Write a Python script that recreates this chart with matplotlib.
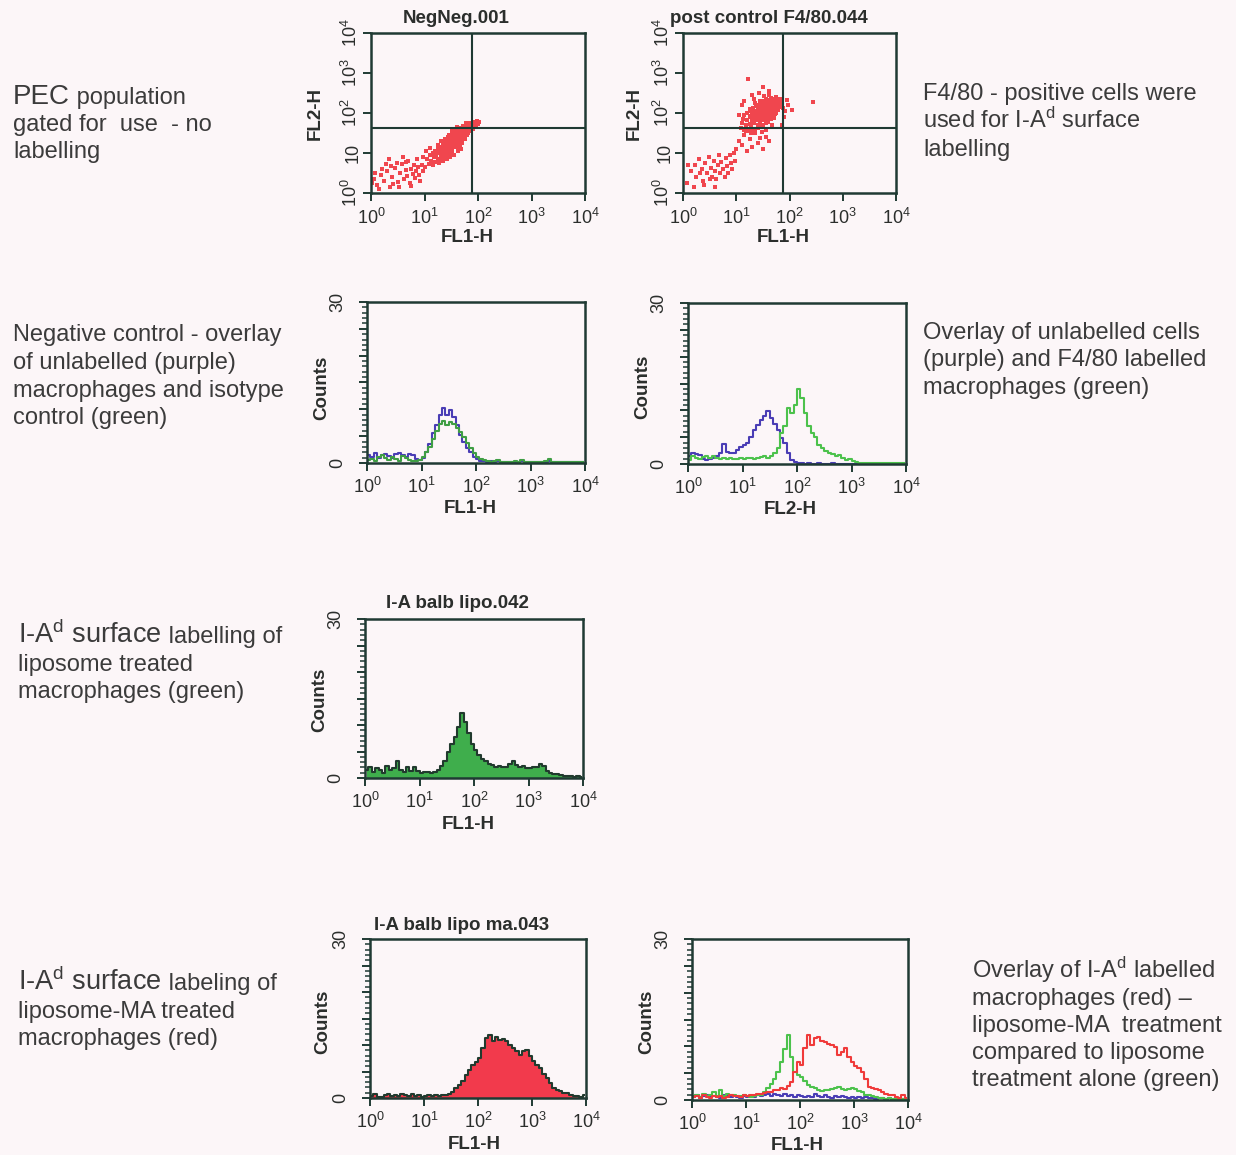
import matplotlib
matplotlib.use('Agg')
import matplotlib.pyplot as plt
from matplotlib.ticker import FixedLocator, FixedFormatter, LogLocator, NullFormatter, MultipleLocator
import numpy as np

# ---------------- data ----------------
DECADES = [1, 10, 100, 1000, 10000]
X_TICK_LABELS = ['10$^{0}$', '10$^{1}$', '10$^{2}$', '10$^{3}$', '10$^{4}$']
Y_DOT_LABELS = ['10$^{0}$', '10', '10$^{2}$', '10$^{3}$', '10$^{4}$']
COUNT_MAJOR = [0, 5, 10, 15, 20, 25, 30]
COUNT_LABELS = ['0', '', '', '', '', '', '30']

# dot plot 1 : NegNeg.001  (log10 FL1, log10 FL2)
neg_fl1 = [0.05,0.12,0.18,0.25,0.3,0.35,0.4,0.45,0.5,0.55,0.58,0.62,0.65,0.68,0.7,0.72,0.75,0.78,0.8,0.82,
           0.85,0.88,0.9,0.6,0.48,0.38,0.28,0.2,0.15,0.08,0.95,0.98,0.75,0.52,0.42,0.33,0.66,0.86,0.92,0.02,
           1.05,1.08,1.1,1.12,1.15,1.15,1.18,1.2,1.2,1.22,1.25,1.25,1.27,1.28,1.3,1.3,1.32,1.33,1.35,1.35,
           1.36,1.37,1.38,1.4,1.4,1.41,1.42,1.43,1.44,1.45,1.45,1.46,1.47,1.48,1.5,1.5,1.5,1.51,1.52,1.53,
           1.54,1.55,1.55,1.56,1.57,1.58,1.59,1.6,1.6,1.61,1.62,1.63,1.64,1.65,1.65,1.66,1.67,1.68,1.69,1.7,
           1.7,1.71,1.72,1.73,1.74,1.75,1.75,1.76,1.77,1.78,1.79,1.8,1.8,1.81,1.82,1.83,1.84,1.85,1.86,1.87,
           1.88,1.9,1.9,1.92,1.94,1.96,1.98,2.0,2.02,1.45,1.38,1.52,1.58,1.62,1.55,1.48,1.68,1.3,1.25,1.7,
           1.42,1.35,1.58,1.63,1.47,1.53,1.67,1.72,1.77,1.6,1.44,1.56,1.5,1.4,1.34,1.66,1.74,1.82,1.58,1.64,
           1.52,1.46,1.6,1.7,0.98,1.0,1.02,1.1]
neg_fl2 = [0.35,0.2,0.45,0.3,0.55,0.15,0.4,0.62,0.28,0.5,0.72,0.35,0.58,0.42,0.8,0.25,0.6,0.48,0.7,0.38,
           0.55,0.65,0.45,0.9,0.75,0.68,0.72,0.6,0.1,0.5,0.7,0.55,0.18,0.15,0.22,0.85,0.78,0.85,0.3,0.25,
           0.85,0.72,0.95,0.8,1.0,0.7,0.9,1.05,0.78,0.95,1.1,0.85,1.0,0.75,1.15,0.92,1.05,0.85,1.2,1.0,
           1.1,0.9,1.25,1.05,1.15,0.95,1.3,1.2,1.1,1.0,1.35,1.25,1.15,1.05,1.4,1.3,1.2,1.1,1.0,1.35,
           1.25,1.45,1.15,1.3,1.4,1.2,1.5,1.35,1.25,1.45,1.15,1.4,1.3,1.5,1.55,1.2,1.45,1.35,1.6,1.5,
           1.4,1.3,1.55,1.45,1.65,1.5,1.35,1.6,1.45,1.7,1.55,1.6,1.45,1.65,1.5,1.7,1.6,1.75,1.55,1.65,
           1.7,1.6,1.78,1.7,1.75,1.65,1.8,1.72,1.78,1.45,1.35,1.55,1.6,1.05,0.95,0.9,1.1,1.3,1.2,1.25,
           0.85,0.8,1.45,1.55,1.38,1.48,1.62,1.68,1.75,1.65,1.4,1.52,1.05,1.0,1.15,1.38,1.42,1.58,1.35,1.48,
           1.22,1.18,1.28,1.35,0.9,0.65,1.05,1.12]
NEG_GATE = (1.89, 1.625)

# dot plot 2 : post control F4/80.044
f480_fl1 = [0.08,0.15,0.22,0.25,0.3,0.35,0.38,0.42,0.45,0.48,0.52,0.55,0.58,0.6,0.62,0.65,0.68,0.7,0.72,0.75,
            0.78,0.8,0.82,0.85,0.88,0.9,0.92,0.95,0.98,0.4,0.6,0.2,0.1,0.32,0.5,
            1.0,1.05,1.1,1.15,1.2,1.25,1.3,1.35,1.4,1.5,1.55,1.45,1.18,1.28,1.62,
            1.08,1.1,1.12,1.15,1.15,1.18,1.2,1.2,1.22,1.25,1.25,1.27,1.28,1.3,1.3,1.32,1.33,1.35,1.35,1.36,
            1.37,1.38,1.4,1.4,1.41,1.42,1.43,1.44,1.45,1.45,1.46,1.47,1.48,1.5,1.5,1.5,1.51,1.52,1.53,1.54,
            1.55,1.55,1.56,1.57,1.58,1.59,1.6,1.6,1.61,1.62,1.63,1.64,1.65,1.65,1.66,1.67,1.68,1.69,1.7,1.7,
            1.71,1.72,1.73,1.74,1.75,1.75,1.76,1.77,1.78,1.8,1.8,1.82,1.84,1.86,1.88,1.2,1.25,1.3,1.35,1.4,
            1.45,1.5,1.55,1.6,1.65,1.7,1.3,1.4,1.5,1.6,1.38,1.48,1.58,1.68,1.28,1.44,1.52,1.62,1.72,1.34,
            1.22,1.5,1.42,1.95,2.05,2.44,1.92,1.9,1.1,1.05,1.15,1.62,1.3,1.98,1.85,1.55,1.48,1.68]
f480_fl2 = [0.25,0.55,0.7,0.4,0.85,0.6,0.3,0.75,0.5,0.9,0.62,0.4,0.8,0.55,0.35,0.7,0.95,0.5,0.78,0.6,
            0.4,0.88,0.68,0.5,0.95,0.75,0.6,1.0,0.8,0.2,0.15,0.15,0.7,0.5,0.35,
            1.1,1.3,1.2,1.45,1.05,1.35,1.15,1.5,1.25,1.1,1.4,1.38,1.55,1.5,1.3,
            1.62,1.75,1.85,1.58,1.95,1.7,1.82,2.0,1.6,1.9,1.72,2.05,1.65,1.85,1.98,2.12,1.75,1.92,1.6,2.05,
            1.82,2.18,1.95,1.7,2.08,1.85,2.2,1.98,1.75,2.1,1.9,2.25,2.02,1.82,2.15,1.95,2.3,2.05,1.88,2.2,
            1.98,2.35,2.1,1.8,2.25,2.0,2.15,1.9,2.32,2.05,2.2,1.95,2.1,2.38,2.25,2.0,2.15,2.3,2.05,2.2,
            1.92,2.35,2.12,2.25,2.0,2.4,2.18,2.3,2.08,2.25,2.15,2.35,2.2,2.3,2.12,1.55,2.1,1.6,2.25,1.62,
            1.65,1.7,1.75,1.78,1.85,1.88,1.78,1.88,2.08,2.08,2.0,1.92,2.12,2.22,1.92,2.3,2.42,2.45,1.98,2.35,
            2.85,2.65,2.5,2.33,2.08,2.28,2.05,1.9,2.2,1.95,2.3,2.55,2.45,2.2,1.7,1.58,1.52,1.7]
F480_GATE = (1.88, 1.625)

# histograms: 64 channels spanning 10^0 .. 10^4
N_CH = 64
negctl_unlab = [1.5,1.2,1.8,1.0,1.4,1.7,1.3,1.0,1.6,1.9,1.5,1.2,1.7,1.4,0.8,0.5,
                0.9,2.0,3.5,5.5,7.0,9.0,10.2,9.0,9.8,8.5,7.0,5.2,4.0,2.8,2.0,1.2,
                0.7,0.4,0.3,0.2,0.3,0.2,0.3,0.2,0.1,0.2,0.2,0.1,0.2,0.3,0.2,0.1,
                0.2,0.1,0.2,0.1,0.2,0.3,0.1,0.2,0.1,0.1,0.2,0.1,0.1,0.2,0.1,0.1]
negctl_iso = [0.5,0.8,0.3,1.2,1.5,0.9,0.6,1.1,0.7,0.4,1.3,1.0,0.6,0.3,0.4,0.6,
              1.2,2.0,3.0,4.5,6.0,7.3,7.8,7.0,7.6,7.2,6.6,5.8,4.8,3.8,2.8,1.8,
              1.2,0.8,0.5,0.3,0.2,0.3,0.6,0.2,0.2,0.1,0.2,0.3,0.2,0.6,0.2,0.1,
              0.2,0.1,0.2,0.2,0.3,0.8,0.2,0.1,0.2,0.1,0.1,0.2,0.1,0.1,0.2,0.1]
f480_unlab = [1.5,2.0,1.8,1.6,1.0,0.8,1.0,1.2,1.5,2.0,3.8,2.2,2.0,2.1,2.6,3.2,
              3.5,3.9,5.0,6.3,7.2,8.2,9.0,9.8,8.5,7.4,6.3,4.8,3.9,2.0,0.8,0.3,
              0.1,0.1,0.0,0.1,0.0,0.0,0.1,0.0,0.0,0.0,0.1,0.0,0.0,0.0,0.0,0.0,
              0.0,0.0,0.0,0.0,0.0,0.0,0.0,0.0,0.0,0.0,0.0,0.0,0.0,0.0,0.0,0.0]
f480_lab = [0.8,1.4,1.2,0.9,1.3,1.5,1.2,1.4,1.1,1.0,1.2,1.0,1.1,1.0,1.0,1.1,
            1.0,1.1,1.2,1.0,1.1,1.3,1.4,1.2,1.5,2.0,3.0,5.7,7.0,10.5,9.5,11.0,
            14.0,12.3,9.5,7.0,5.8,5.0,3.5,3.0,2.5,2.0,1.8,1.4,1.6,1.2,0.8,1.0,
            0.5,0.3,0.2,0.2,0.1,0.2,0.1,0.1,0.2,0.1,0.1,0.1,0.2,0.1,0.1,0.1]
lipo_green = [1.5,2.0,1.2,1.8,1.5,1.0,2.2,1.5,1.8,3.3,1.6,1.2,2.0,1.4,2.0,1.3,
              1.0,1.1,1.1,1.0,1.1,1.5,2.2,3.3,5.0,6.5,7.8,9.7,12.3,10.5,8.4,6.5,
              5.2,4.3,3.6,3.3,2.7,2.4,2.1,2.3,2.0,2.1,2.6,3.3,2.5,2.0,2.2,1.8,
              1.9,2.1,2.0,2.7,2.2,1.4,1.0,0.8,0.7,0.5,0.4,0.3,0.3,0.2,0.3,0.2]
lipo_ma_red = [0.3,0.8,0.2,0.2,0.5,0.7,0.4,0.6,0.3,0.7,0.5,0.4,0.8,0.3,0.5,0.2,
               0.4,0.6,0.3,0.5,0.4,0.6,0.5,0.8,1.2,1.8,2.5,3.3,4.4,5.2,6.3,6.8,
               7.5,9.5,11.3,11.9,10.7,11.6,11.0,11.2,10.7,10.0,9.4,8.8,8.2,8.8,9.1,8.0,
               6.9,6.2,5.6,4.6,3.8,2.8,1.9,1.5,1.3,1.0,0.9,0.6,0.3,0.4,0.2,0.5]
ovl_purple = [0.6,0.9,0.4,0.7,1.0,0.5,0.8,0.6,0.4,0.9,0.7,0.5,0.8,0.6,0.4,0.7,
              0.5,0.8,0.6,0.9,0.7,1.0,1.2,0.8,1.1,0.9,0.7,1.2,0.8,1.0,0.6,0.9,
              0.7,0.5,0.8,0.6,1.2,0.7,0.5,0.9,0.6,0.4,0.7,0.5,0.8,0.6,0.4,0.5,
              0.3,0.6,0.4,0.5,0.3,0.4,0.2,0.3,0.4,0.2,0.3,0.2,0.3,0.1,0.2,0.3]
ovl_green = [0.8,1.0,0.6,1.2,0.8,1.0,1.4,0.7,1.9,0.8,1.2,0.9,1.0,0.8,0.7,0.9,
             0.8,0.6,0.8,0.9,1.0,1.5,2.2,3.0,4.0,5.3,7.0,9.5,12.1,8.0,5.3,4.7,
             4.2,3.6,2.8,2.4,2.2,1.8,1.6,1.9,1.8,2.0,2.3,2.5,2.1,1.9,2.0,2.2,
             2.1,1.6,1.4,1.0,0.9,0.7,0.6,0.4,0.3,0.2,0.3,0.2,0.2,0.1,0.2,0.1]
ovl_red = [0.5,0.8,0.4,0.9,0.6,0.3,0.7,0.5,0.8,0.4,0.6,0.9,0.7,0.8,0.6,1.0,
           0.8,1.0,0.9,1.2,1.1,1.3,1.5,1.4,1.8,1.9,2.2,2.0,2.6,3.4,5.3,7.1,
           6.5,9.6,12.1,10.2,11.5,11.8,11.0,10.9,10.5,10.2,9.8,8.4,9.0,9.6,8.0,7.1,
           6.4,5.9,5.3,4.0,2.5,2.2,2.0,1.9,1.5,1.2,1.0,0.9,0.6,0.3,0.9,0.4]

# annotation texts
LEFT_TEXTS = [
    (13, 104, [('PEC', 20), (' population', 17)]),
    (13, 131, [('gated for  use  - no', 17)]),
    (13, 158, [('labelling', 17)]),
    (13, 341, [('Negative control - overlay', 17)]),
    (13, 369, [('of unlabelled (purple)', 17)]),
    (13, 397, [('macrophages and isotype', 17)]),
    (13, 424, [('control (green)', 17)]),
    (18, 643, [('I-A$^{\\mathrm{d}}$ surface', 19.5), (' labelling of', 17)]),
    (18, 671, [('liposome treated', 17)]),
    (18, 698, [('macrophages (green)', 17)]),
    (18, 990, [('I-A$^{\\mathrm{d}}$ surface', 19.5), (' labeling of', 17)]),
    (18, 1018, [('liposome-MA treated', 17)]),
    (18, 1045, [('macrophages (red)', 17)]),
    (923, 100, [('F4/80 - positive cells were', 17)]),
    (923, 128, [('used for I-A$^{\\mathrm{d}}$ surface', 17)]),
    (923, 156, [('labelling', 17)]),
    (923, 339, [('Overlay of unlabelled cells', 17)]),
    (923, 366, [('(purple) and F4/80 labelled', 17)]),
    (923, 394, [('macrophages (green)', 17)]),
    (972, 978, [('Overlay of I-A$^{\\mathrm{d}}$ labelled', 17)]),
    (972, 1005, [('macrophages (red) \u2013', 17)]),
    (972, 1032, [('liposome-MA  treatment', 17)]),
    (972, 1059, [('compared to liposome', 17)]),
    (972, 1086, [('treatment alone (green)', 17)]),
]

# ---------------- style ----------------
W, H = 1236, 1155
BG = '#fcf6f8'
TXT = '#3b3b3b'
PTXT = '#2b2e2c'
FRAME = '#1f3a33'
DOT_RED = '#f0464e'
PURPLE = '#4a3db5'
GREEN = '#4cc24c'
GREEN_DARK = '#3f9e44'
FILL_GREEN = '#3fae4c'
FILL_RED = '#f23a4c'
EDGE = '#213a2e'

plt.rcParams['font.family'] = ['Liberation Sans', 'DejaVu Sans']
plt.rcParams['mathtext.fontset'] = 'custom'
plt.rcParams['mathtext.rm'] = 'Liberation Sans'
plt.rcParams['mathtext.it'] = 'Liberation Sans:italic'
plt.rcParams['mathtext.bf'] = 'Liberation Sans:bold'

fig = plt.figure(figsize=(W / 100, H / 100), dpi=100, facecolor=BG)

BIN_X = 10 ** ((np.arange(N_CH) + 0.5) * 4.0 / N_CH)


def px_axes(x0, y0, x1, y1):
    ax = fig.add_axes([x0 / W, 1 - y1 / H, (x1 - x0) / W, (y1 - y0) / H])
    ax.set_facecolor(BG)
    for s in ax.spines.values():
        s.set_color(FRAME)
        s.set_linewidth(1.8)
    return ax


def ftext(x, y, s, **kw):
    kw.setdefault('color', PTXT)
    return fig.text(x / W, 1 - y / H, s, **kw)


def setup_log_x(ax, pad):
    ax.set_xscale('log')
    ax.set_xlim(1, 1e4)
    ax.xaxis.set_major_locator(FixedLocator(DECADES))
    ax.xaxis.set_major_formatter(FixedFormatter(X_TICK_LABELS))
    ax.xaxis.set_minor_locator(LogLocator(base=10, subs=np.arange(2, 10)))
    ax.xaxis.set_minor_formatter(NullFormatter())
    ax.tick_params(axis='x', which='major', direction='out', length=6, width=1.4,
                   color=FRAME, labelsize=13, pad=pad, labelcolor=PTXT)
    ax.tick_params(axis='x', which='minor', direction='out', length=4, width=1.1, color=FRAME)


def rotate_ylabels(ax):
    for lab in ax.get_yticklabels():
        lab.set_rotation(90)
        lab.set_va('center')


def dot_panel(box, xs, ys, gate, title, title_xy, ylab_xy, xlab_xy):
    ax = px_axes(*box)
    setup_log_x(ax, pad=5)
    ax.set_yscale('log')
    ax.set_ylim(1, 1e4)
    ax.yaxis.set_major_locator(FixedLocator(DECADES))
    ax.yaxis.set_major_formatter(FixedFormatter(Y_DOT_LABELS))
    ax.yaxis.set_minor_locator(LogLocator(base=10, subs=np.arange(2, 10)))
    ax.yaxis.set_minor_formatter(NullFormatter())
    ax.tick_params(axis='y', which='major', direction='out', length=6, width=1.4,
                   color=FRAME, labelsize=13, pad=1, labelcolor=PTXT)
    ax.tick_params(axis='y', which='minor', direction='out', length=4, width=1.1, color=FRAME)
    rotate_ylabels(ax)
    ax.scatter(10 ** np.array(xs), 10 ** np.array(ys), s=10, marker='s', c=DOT_RED, linewidths=0)
    ax.axvline(10 ** gate[0], color=FRAME, lw=1.5)
    ax.axhline(10 ** gate[1], color=FRAME, lw=1.5)
    ftext(title_xy[0], title_xy[1], title, fontsize=13.5, ha='center', va='baseline', weight='bold')
    ftext(ylab_xy[0], ylab_xy[1], 'FL2-H', fontsize=13.5, ha='center', va='center', rotation=90, weight='bold')
    ftext(xlab_xy[0], xlab_xy[1], 'FL1-H', fontsize=13.5, ha='center', va='baseline', weight='bold')
    return ax


def hist_panel(box, series, xlabel, ylab_xy, xlab_xy, title=None, title_xy=None):
    ax = px_axes(*box)
    setup_log_x(ax, pad=4)
    ax.set_ylim(0, 30)
    ax.yaxis.set_major_locator(FixedLocator(COUNT_MAJOR))
    ax.yaxis.set_major_formatter(FixedFormatter(COUNT_LABELS))
    ax.yaxis.set_minor_locator(MultipleLocator(1))
    ax.tick_params(axis='y', which='major', direction='out', length=6, width=1.4,
                   color=FRAME, labelsize=13, pad=9, labelcolor=PTXT)
    ax.tick_params(axis='y', which='minor', direction='out', length=3.5, width=1.1, color=FRAME)
    rotate_ylabels(ax)
    for vals, color, filled in series:
        vals = np.asarray(vals)
        if filled:
            ax.fill_between(BIN_X, vals, step='mid', facecolor=color, edgecolor='none')
            ax.step(BIN_X, vals, where='mid', color=EDGE, lw=1.5)
        else:
            ax.step(BIN_X, vals, where='mid', color=color, lw=1.5)
    ftext(ylab_xy[0], ylab_xy[1], 'Counts', fontsize=13.5, ha='center', va='center', rotation=90, weight='bold')
    ftext(xlab_xy[0], xlab_xy[1], xlabel, fontsize=13.5, ha='center', va='baseline', weight='bold')
    if title:
        ftext(title_xy[0], title_xy[1], title, fontsize=13.5, ha='center', va='baseline', weight='bold')
    return ax


# ---------------- panels ----------------
dot_panel((371, 33, 585, 193), neg_fl1, neg_fl2, NEG_GATE, 'NegNeg.001',
          (456, 23), (315, 113), (467, 242))
dot_panel((683, 33, 896, 193), f480_fl1, f480_fl2, F480_GATE, 'post control F4/80.044',
          (769, 23), (634, 113), (783, 242))

hist_panel((367, 302, 585, 463), [(negctl_unlab, PURPLE, False), (negctl_iso, GREEN_DARK, False)],
           'FL1-H', (322, 388), (470, 513))
hist_panel((688, 303, 906, 464), [(f480_unlab, PURPLE, False), (f480_lab, GREEN, False)],
           'FL2-H', (643, 387), (790, 514))
hist_panel((365, 619, 583, 778), [(lipo_green, FILL_GREEN, True)],
           'FL1-H', (320, 700), (468, 829), 'I-A balb lipo.042', (457, 608))
hist_panel((370, 939, 586, 1098), [(lipo_ma_red, FILL_RED, True)],
           'FL1-H', (323, 1022), (474, 1149), 'I-A balb lipo ma.043', (462, 930))
hist_panel((692, 939, 908, 1100), [(ovl_purple, PURPLE, False), (ovl_green, GREEN, False),
                                   (ovl_red, '#f03a3a', False)],
           'FL1-H', (647, 1022), (797, 1150))

# ---------------- annotations ----------------
renderer = fig.canvas.get_renderer()
for x, y, pieces in LEFT_TEXTS:
    cx = x
    for s, size in pieces:
        t = fig.text(cx / W, 1 - y / H, s, fontsize=size, ha='left', va='baseline', color=TXT)
        bb = t.get_window_extent(renderer)
        cx = bb.x1

fig.savefig('out.png', dpi=100, facecolor=BG)
